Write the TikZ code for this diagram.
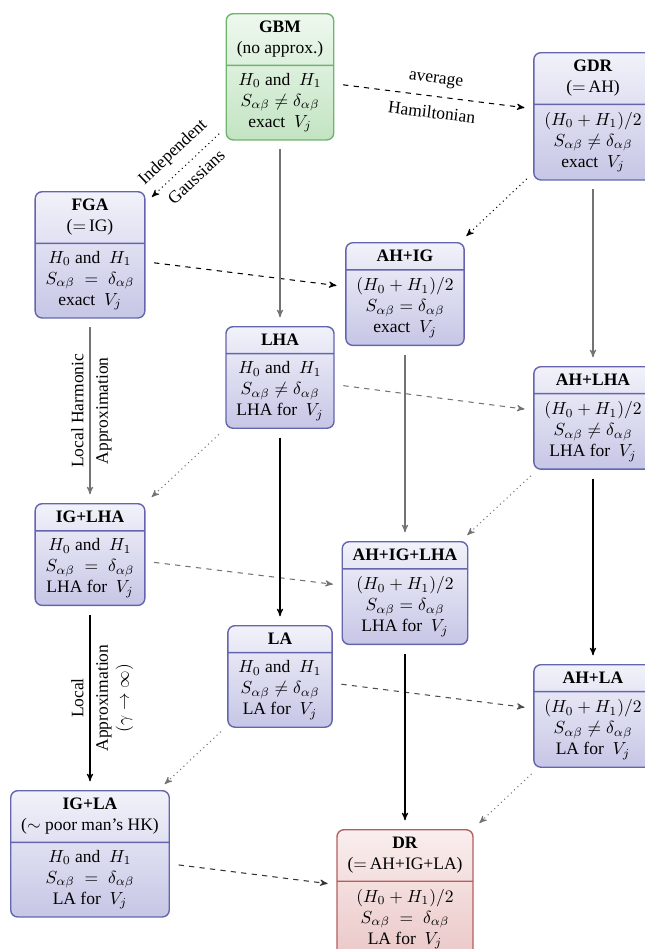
\documentclass[tikz,border=0pt]{standalone}
\usepackage{amsmath,amssymb}
\usepackage{fontspec}
\setmainfont{Liberation Serif}
\usepackage{xcolor}
\usepackage{tikz}
\usetikzlibrary{shapes}
\usetikzlibrary{arrows}

\definecolor{boxblue}{RGB}{100,100,175}
\definecolor{topblue}{RGB}{242,242,250}
\definecolor{botblue}{RGB}{198,198,230}
\definecolor{boxgreen}{RGB}{110,180,110}
\definecolor{topgreen}{RGB}{238,248,238}
\definecolor{botgreen}{RGB}{195,228,195}
\definecolor{boxred}{RGB}{180,95,95}
\definecolor{topred}{RGB}{250,238,238}
\definecolor{botred}{RGB}{235,200,200}

\tikzset{
    method/.style = {rectangle split, rectangle split parts=2, draw=boxblue,
        thick, rounded corners=4pt, top color=topblue, bottom color=botblue,
        align=center, inner xsep=6pt, inner ysep=4pt, anchor=north},
    exactbox/.style = {method, draw=boxgreen, top color=topgreen, bottom color=botgreen},
    finalbox/.style = {method, draw=boxred, top color=topred, bottom color=botred},
    arr/.style = {-stealth', semithick, shorten >=5pt, shorten <=5pt},
    ahstep/.style = {arr, dashed},
    igstep/.style = {arr, dotted},
    lastep/.style = {arr},
    steplabel/.style = {midway, text=black},
}

\begin{document}
\begin{tikzpicture}[x=0.5714pt, y=-0.5714pt]
        \useasboundingbox (0, 0) rectangle (645, 949);
        \clip (0, 0) rectangle (645, 949);

        % top plane: exact potential
        \node[exactbox] (gbm) at (280, 13) {\textbf{GBM}\\(no approx.)
            \nodepart{two} $H_0$ and~~$H_1$\\$S_{\alpha\beta}\neq\delta_{\alpha\beta}$\\exact~~$V_j$};
        \node[method] (gdr) at (593, 52) {\textbf{GDR}\\($=$\,AH)
            \nodepart{two} $(H_0+H_1)/2$\\$S_{\alpha\beta}\neq\delta_{\alpha\beta}$\\exact~~$V_j$};
        \node[method] (fga) at (90, 191) {\textbf{FGA}\\($=$\,IG)
            \nodepart{two} $H_0$ and~~$H_1$\\$S_{\alpha\beta}\;=\;\delta_{\alpha\beta}$\\exact~~$V_j$};
        \node[method] (ahig) at (405, 242) {\textbf{AH+IG}
            \nodepart{two} $(H_0+H_1)/2$\\$S_{\alpha\beta}=\delta_{\alpha\beta}$\\exact~~$V_j$};

        % middle plane: local harmonic
        \node[method] (lha) at (280, 326) {\textbf{LHA}
            \nodepart{two} $H_0$ and~~$H_1$\\$S_{\alpha\beta}\neq\delta_{\alpha\beta}$\\LHA for~~$V_j$};
        \node[method] (ahlha) at (593, 366) {\textbf{AH+LHA}
            \nodepart{two} $(H_0+H_1)/2$\\$S_{\alpha\beta}\neq\delta_{\alpha\beta}$\\LHA for~~$V_j$};
        \node[method] (iglha) at (90, 503) {\textbf{IG+LHA}
            \nodepart{two} $H_0$ and~~$H_1$\\$S_{\alpha\beta}\;=\;\delta_{\alpha\beta}$\\LHA for~~$V_j$};
        \node[method] (ahiglha) at (405, 541) {\textbf{AH+IG+LHA}
            \nodepart{two} $(H_0+H_1)/2$\\$S_{\alpha\beta}=\delta_{\alpha\beta}$\\LHA for~~$V_j$};

        % bottom plane: local
        \node[method] (la) at (280, 625) {\textbf{LA}
            \nodepart{two} $H_0$ and~~$H_1$\\$S_{\alpha\beta}\neq\delta_{\alpha\beta}$\\LA for~~$V_j$};
        \node[method] (ahla) at (593, 664) {\textbf{AH+LA}
            \nodepart{two} $(H_0+H_1)/2$\\$S_{\alpha\beta}\neq\delta_{\alpha\beta}$\\LA for~~$V_j$};
        \node[method] (igla) at (90, 790) {\textbf{IG+LA}\\($\sim$ poor man's HK)
            \nodepart{two} $H_0$ and~~$H_1$\\$S_{\alpha\beta}\;=\;\delta_{\alpha\beta}$\\LA for~~$V_j$};
        \node[finalbox] (dr) at (405, 829) {\textbf{DR}\\($=$\,AH+IG+LA)
            \nodepart{two} $(H_0+H_1)/2$\\$S_{\alpha\beta}\;=\;\delta_{\alpha\beta}$\\LA for~~$V_j$};

        % average Hamiltonian
        \draw[ahstep] (gbm) -- (gdr)
            node[steplabel, sloped, above=2pt] {average}
            node[steplabel, sloped, below=2pt] {Hamiltonian};
        \draw[ahstep] (fga) -- (ahig);
        \draw[ahstep, black!55] (lha) -- (ahlha);
        \draw[ahstep, black!55] (iglha) -- (ahiglha);
        \draw[ahstep, black!70] (la) -- (ahla);
        \draw[ahstep, black!80] (igla) -- (dr);

        % independent Gaussians
        \draw[igstep] (gbm) -- (fga)
            node[steplabel, sloped, above=2pt] {Independent}
            node[steplabel, sloped, below=2pt] {Gaussians};
        \draw[igstep] (gdr) -- (ahig);
        \draw[igstep, black!55] (lha) -- (iglha);
        \draw[igstep, black!55] (ahlha) -- (ahiglha);
        \draw[igstep, black!55] (la) -- (igla);
        \draw[igstep, black!55] (ahla) -- (dr);

        % local harmonic, then local
        \draw[lastep, black!55] (gbm) -- (lha);
        \draw[lastep, black!55] (fga) -- (iglha)
            node[steplabel, rotate=90, above] {Local Harmonic}
            node[steplabel, rotate=90, below] {Approximation};
        \draw[lastep, black!55] (gdr) -- (ahlha);
        \draw[lastep, black!55] (ahig) -- (ahiglha);
        \draw[lastep] (lha) -- (la);
        \draw[lastep] (iglha) -- (igla)
            node[steplabel, rotate=90, above] {Local}
            node[steplabel, rotate=90, below, align=center] {Approximation\\$(\gamma\to\infty)$};
        \draw[lastep] (ahlha) -- (ahla);
        \draw[lastep] (ahiglha) -- (dr);
\end{tikzpicture}
\end{document}
